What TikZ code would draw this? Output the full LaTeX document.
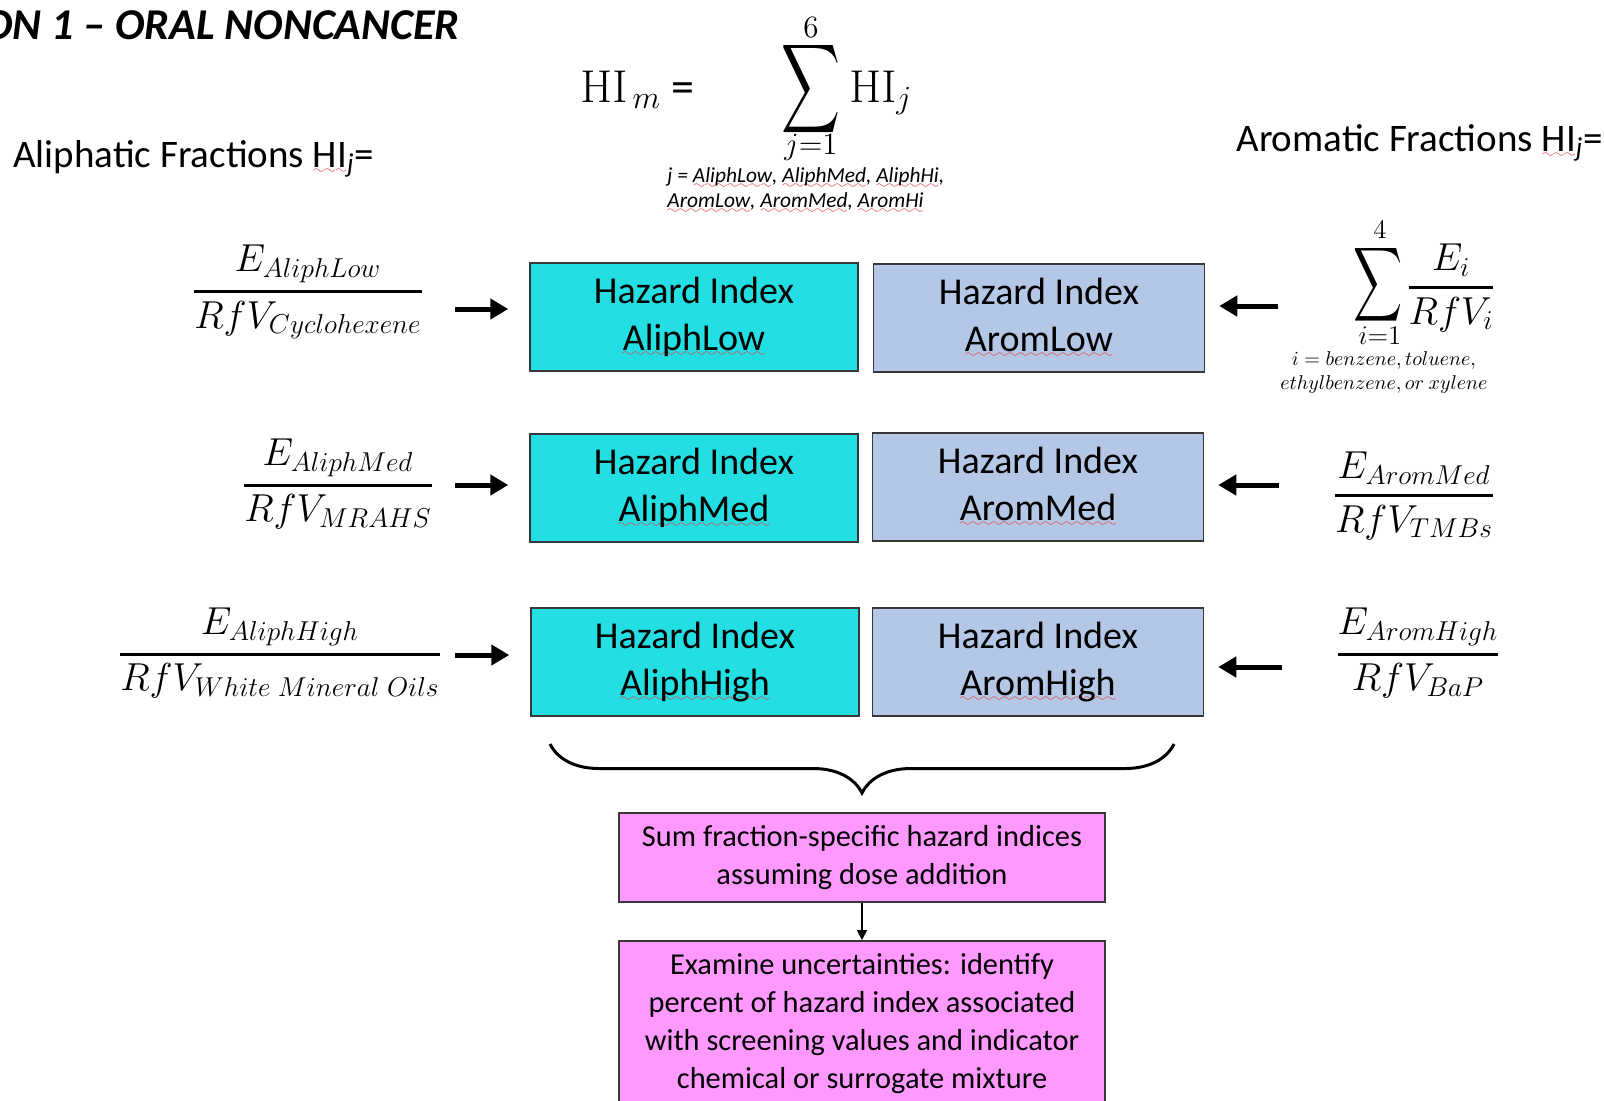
\documentclass[tikz,border=0pt]{standalone}
\usepackage{fix-cm}
\usepackage{amsmath}
\usepackage{graphicx}
\usepackage[no-math]{fontspec}
\setmainfont{Carlito}
\usetikzlibrary{arrows.meta,decorations.pathreplacing}
\definecolor{aliph}{RGB}{35,223,227}
\definecolor{arom}{RGB}{180,199,231}
\definecolor{pinkbox}{RGB}{255,153,255}
\definecolor{boxline}{RGB}{55,55,55}
\definecolor{spellred}{RGB}{225,60,60}
\font\wavefont=lasy6
\newcommand{\spell}[1]{\setbox0\hbox{#1}\rlap{\textcolor{spellred}{\lower3pt\hbox to\wd0{\xleaders\hbox{\wavefont\char58}\hfil}}}\box0}
\newcommand{\rfrac}[2]{\genfrac{}{}{1.3pt}{0}{#1}{#2}}
\newcommand{\bigsig}{\scalebox{0.82}[1.25]{$\displaystyle\sum$}}
\begin{document}
\begin{tikzpicture}[x=0.5pt, y=-0.5pt,
  hbox/.style={draw=boxline, line width=0.75pt, minimum height=54pt, align=center, inner sep=0pt, font=\fontsize{19}{23.5}\selectfont},
  aliphbox/.style={hbox, fill=aliph, minimum width=164pt},
  arombox/.style={hbox, fill=arom, minimum width=165.5pt},
  stepbox/.style={draw=boxline, fill=pinkbox, line width=0.75pt, minimum width=243pt, align=center, font=\fontsize{15.2}{19}\selectfont},
  lbl/.style={inner sep=0pt, font=\fontsize{19.5}{23}\selectfont},
  frac/.style={inner sep=0pt, font=\fontsize{19.5}{24}\selectfont},
  sig/.style={inner sep=0pt, font=\fontsize{23}{28}\selectfont},
  lim/.style={inner sep=0pt, font=\fontsize{15.5}{16}\selectfont},
  fat/.style={line width=2.5pt, -{Triangle[length=9pt,width=10pt]}}]
\useasboundingbox (0,0) rectangle (1604,1100);

\node[anchor=base east, inner sep=0pt, font=\fontsize{22}{26}\selectfont\bfseries\itshape] (title) at (460,39) {ON 1 – ORAL NONCANCER};

% formula for the mixture
\node[anchor=base west, inner sep=0pt, font=\fontsize{23}{28}\selectfont] (HIm) at (580,102) {$\mathrm{HI}_{\,m}$ =};
\node[sig] (sumJ) at (811,89) {\bigsig};
\node[lim] (topJ) at (811,27) {$6$};
\node[lim] (botJ) at (811,147) {$j{=}1$};
\node[anchor=base west, inner sep=0pt, font=\fontsize{23}{28}\selectfont] (HIj) at (849,102) {$\mathrm{HI}_j$};
\node[anchor=north west, align=left, inner sep=0pt, font=\fontsize{10.7}{12.5}\selectfont\itshape] (jlist) at (667,167) {j = \spell{AliphLow}, \spell{AliphMed}, \spell{AliphHi},\\\spell{AromLow}, \spell{AromMed}, \spell{AromHi}};

\node[lbl, anchor=base west] (aliphT) at (13,167) {Aliphatic Fractions \spell{HI}\textsubscript{\textit{j}}=};
\node[lbl, anchor=base west] (aromT) at (1236,151) {Aromatic Fractions \spell{HI}\textsubscript{\textit{j}}=};

% hazard index boxes
\node[aliphbox] (AL1) at (694,317) {Hazard Index\\\spell{AliphLow}};
\node[arombox] (AR1) at (1039,318) {Hazard Index\\\spell{AromLow}};
\node[aliphbox] (AL2) at (694,488) {Hazard Index\\\spell{AliphMed}};
\node[arombox] (AR2) at (1038,487) {Hazard Index\\\spell{AromMed}};
\node[aliphbox] (AL3) at (695,662) {Hazard Index\\\spell{AliphHigh}};
\node[arombox] (AR3) at (1038,662) {Hazard Index\\\spell{AromHigh}};

% left side
\node[frac] (FL1) at (308,292) {$\rfrac{E_{AliphLow}}{RfV_{Cyclohexene}}$};
\node[frac] (FL2) at (338,484) {$\rfrac{E_{AliphMed}}{RfV_{MRAHS}}$};
\node[frac] (FL3) at (280,653) {$\rfrac{E_{AliphHigh}}{RfV_{White\;Mineral\;Oils}}$};

% right side
\node[sig, font=\fontsize{22.5}{28}\selectfont] (sumI) at (1378,285) {\bigsig};
\node[lim, font=\fontsize{13.5}{14}\selectfont] (topI) at (1380,230) {$4$};
\node[lim, font=\fontsize{13.5}{14}\selectfont] (botI) at (1380,336) {$i{=}1$};
\node[frac] (FR1) at (1451,288) {$\rfrac{E_i}{RfV_i}$};
\node[align=center, inner sep=0pt, font=\fontsize{10}{12}\selectfont] (ilist) at (1384,372) {$i = benzene, toluene,$\\$ethylbenzene, or\ xylene$};
\node[frac] (FR2) at (1414,496) {$\rfrac{E_{AromMed}}{RfV_{TMBs}}$};
\node[frac] (FR3) at (1418,653) {$\rfrac{E_{AromHigh}}{RfV_{BaP}}$};

\coordinate (tL1) at (455,309);
\coordinate (tL2) at (455,485);
\coordinate (tL3) at (455,655);
\coordinate (tR1) at (1278,306);
\coordinate (tR2) at (1279,485);
\coordinate (tR3) at (1282,667);
\draw[fat, shorten >=10.5pt] (tL1) -- (tL1 -| AL1.west);
\draw[fat, shorten >=10.5pt] (tL2) -- (tL2 -| AL2.west);
\draw[fat, shorten >=10.5pt] (tL3) -- (tL3 -| AL3.west);
\draw[fat, shorten >=7pt] (tR1) -- (tR1 -| AR1.east);
\draw[fat, shorten >=7pt] (tR2) -- (tR2 -| AR2.east);
\draw[fat, shorten >=7pt] (tR3) -- (tR3 -| AR3.east);

% brace and the two steps
\coordinate (bL) at (550,744);
\coordinate (bR) at (1174,744);
\draw[line width=1.5pt, decorate, decoration={brace, mirror, amplitude=24.5pt}] (bL) -- (bR);

\node[stepbox, minimum height=44.5pt] (sumbox) at (862,857.5) {Sum fraction-specific hazard indices\\assuming dose addition};
\node[stepbox, minimum height=83pt, anchor=north] (exambox) at (862,940) {Examine uncertainties: identify\\percent of hazard index associated\\with screening values and indicator\\chemical or surrogate mixture};
\draw[line width=0.75pt, -{Triangle[length=5pt,width=5pt]}] (sumbox) -- (exambox);

\end{tikzpicture}
\end{document}
